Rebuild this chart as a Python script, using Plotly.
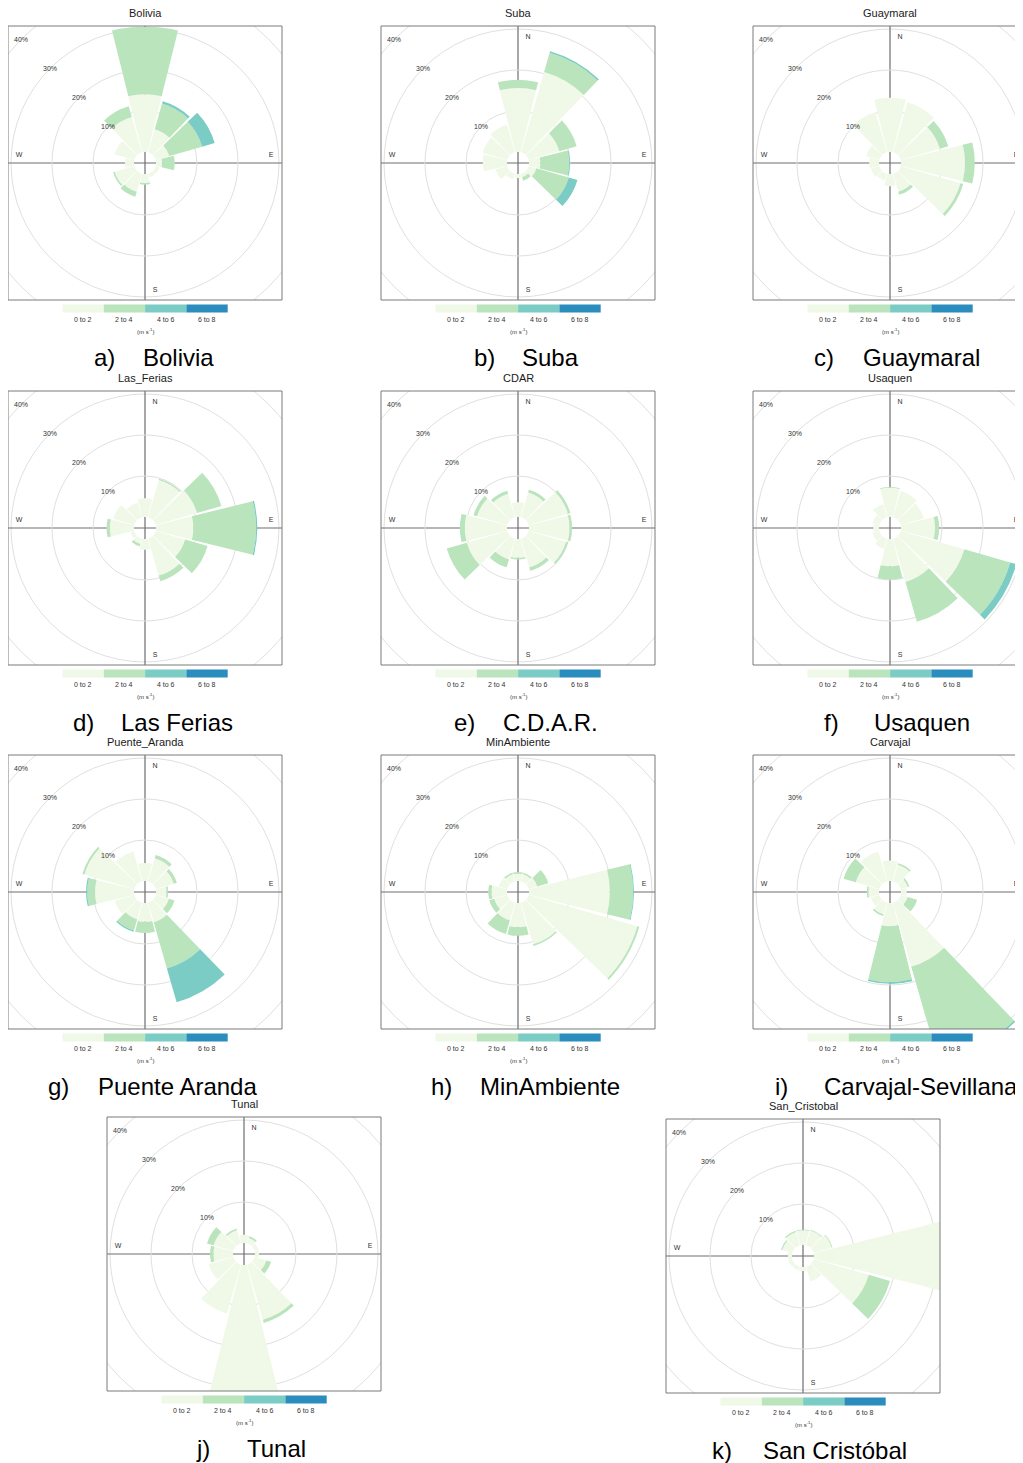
import math
import plotly.graph_objects as go

# ---------------------------------------------------------------- data
# frequency of counts (%) by wind direction (deg) and wind speed class
DIRECTIONS = [0, 30, 60, 90, 120, 150, 180, 210, 240, 270, 300, 330]
SPEED_BINS = ["0 to 2", "2 to 4", "4 to 6", "6 to 8"]
SPEED_UNIT = "(m s<sup>-1</sup>)"
PCT_TICKS = [10, 20, 30, 40]

bolivia_0to2 = [14.1, 5.9, 3.5, 1.5, 1.0, 1.0, 2.2, 4.6, 5.0, 2.2, 5.0, 9.0]
bolivia_2to4 = [25.9, 6.5, 8.3, 3.1, 0.0, 0.0, 0.4, 1.3, 0.4, 0.0, 0.0, 2.7]
bolivia_4to6 = [0.0, 0.6, 3.2, 0.0, 0.0, 0.0, 0.0, 0.0, 0.0, 0.0, 0.0, 0.0]
bolivia_6to8 = [0.0, 0.0, 0.0, 0.0, 0.0, 0.0, 0.0, 0.0, 0.0, 0.0, 0.0, 0.0]

suba_0to2 = [15.6, 20.4, 7.8, 2.8, 2.0, 0.9, 1.0, 1.5, 3.0, 5.9, 6.3, 7.0]
suba_2to4 = [2.0, 4.9, 4.4, 7.0, 8.2, 0.9, 0.0, 0.0, 0.0, 0.0, 0.0, 0.0]
suba_4to6 = [0.0, 0.4, 0.0, 0.2, 2.2, 0.0, 0.0, 0.0, 0.0, 0.0, 0.0, 0.0]
suba_6to8 = [0.0, 0.0, 0.0, 0.0, 0.0, 0.0, 0.0, 0.0, 0.0, 0.0, 0.0, 0.0]

guaymaral_0to2 = [13.2, 12.7, 10.0, 15.6, 15.2, 4.6, 3.0, 1.8, 2.2, 2.4, 3.4, 10.2]
guaymaral_2to4 = [0.0, 0.0, 2.1, 2.4, 0.7, 0.8, 0.0, 0.0, 0.0, 0.0, 0.0, 0.0]
guaymaral_4to6 = [0.0, 0.0, 0.0, 0.0, 0.0, 0.0, 0.0, 0.0, 0.0, 0.0, 0.0, 0.0]
guaymaral_6to8 = [0.0, 0.0, 0.0, 0.0, 0.0, 0.0, 0.0, 0.0, 0.0, 0.0, 0.0, 0.0]

las_ferias_0to2 = [4.6, 9.5, 10.5, 9.1, 7.5, 9.4, 2.6, 1.4, 1.0, 5.9, 5.4, 3.8]
las_ferias_2to4 = [0.0, 0.3, 6.2, 15.3, 5.7, 1.4, 0.0, 0.6, 0.0, 0.8, 0.0, 0.0]
las_ferias_4to6 = [0.0, 0.0, 0.0, 0.3, 0.0, 0.0, 0.0, 0.0, 0.0, 0.0, 0.0, 0.0]
las_ferias_6to8 = [0.0, 0.0, 0.0, 0.0, 0.0, 0.0, 0.0, 0.0, 0.0, 0.0, 0.0, 0.0]

cdar_0to2 = [3.6, 6.3, 10.0, 9.9, 9.5, 7.3, 4.6, 5.3, 10.3, 10.3, 7.7, 6.0]
cdar_2to4 = [0.0, 0.7, 0.6, 0.6, 0.5, 0.9, 0.4, 2.0, 5.1, 1.2, 0.9, 0.8]
cdar_4to6 = [0.0, 0.0, 0.0, 0.0, 0.0, 0.0, 0.0, 0.0, 0.0, 0.0, 0.0, 0.0]
cdar_6to8 = [0.0, 0.0, 0.0, 0.0, 0.0, 0.0, 0.0, 0.0, 0.0, 0.0, 0.0, 0.0]

usaquen_0to2 = [7.1, 6.7, 5.9, 8.3, 16.2, 11.0, 6.7, 2.6, 1.8, 1.4, 1.8, 3.4]
usaquen_2to4 = [0.2, 0.0, 0.0, 1.0, 11.6, 10.1, 3.2, 0.0, 0.0, 0.0, 0.0, 0.0]
usaquen_4to6 = [0.0, 0.0, 0.0, 0.0, 1.6, 0.0, 0.0, 0.0, 0.0, 0.0, 0.0, 0.0]
usaquen_6to8 = [0.0, 0.0, 0.0, 0.0, 0.0, 0.0, 0.0, 0.0, 0.0, 0.0, 0.0, 0.0]

puente_aranda_0to2 = [4.4, 5.9, 4.6, 2.6, 3.4, 5.0, 4.6, 4.2, 5.0, 9.5, 12.7, 7.6]
puente_aranda_2to4 = [0.0, 0.8, 0.8, 0.4, 1.4, 11.7, 2.7, 2.9, 0.0, 1.9, 0.5, 0.0]
puente_aranda_4to6 = [0.0, 0.0, 0.0, 0.0, 0.0, 8.6, 0.0, 0.3, 0.0, 0.3, 0.0, 0.0]
puente_aranda_6to8 = [0.0, 0.0, 0.0, 0.0, 0.0, 0.0, 0.0, 0.0, 0.0, 0.0, 0.0, 0.0]

minambiente_0to2 = [1.8, 1.8, 2.2, 19.7, 27.6, 10.6, 5.9, 4.5, 3.4, 3.8, 2.2, 1.8]
minambiente_2to4 = [0.4, 0.4, 2.8, 5.7, 0.5, 0.4, 2.1, 3.5, 1.2, 0.8, 0.0, 0.4]
minambiente_4to6 = [0.0, 0.0, 0.0, 0.2, 0.0, 0.0, 0.0, 0.0, 0.0, 0.0, 0.0, 0.0]
minambiente_6to8 = [0.0, 0.0, 0.0, 0.0, 0.0, 0.0, 0.0, 0.0, 0.0, 0.0, 0.0, 0.0]

carvajal_0to2 = [5.0, 4.2, 1.8, 1.4, 1.8, 16.3, 5.7, 3.0, 2.2, 2.6, 6.0, 7.6]
carvajal_2to4 = [0.0, 0.4, 0.4, 0.0, 2.4, 24.6, 13.6, 0.4, 0.0, 0.4, 3.1, 0.0]
carvajal_4to6 = [0.0, 0.0, 0.0, 0.0, 0.0, 0.4, 0.4, 0.0, 0.0, 0.0, 0.0, 0.0]
carvajal_6to8 = [0.0, 0.0, 0.0, 0.0, 0.0, 0.0, 0.0, 0.0, 0.0, 0.0, 0.0, 0.0]

tunal_0to2 = [2.0, 1.4, 1.0, 1.0, 3.0, 14.0, 34.0, 12.4, 6.3, 4.8, 5.0, 3.4]
tunal_2to4 = [0.0, 0.4, 0.0, 0.0, 1.2, 0.8, 0.0, 0.0, 0.0, 0.8, 1.7, 0.4]
tunal_4to6 = [0.0, 0.0, 0.0, 0.0, 0.0, 0.0, 0.0, 0.0, 0.0, 0.0, 0.0, 0.0]
tunal_6to8 = [0.0, 0.0, 0.0, 0.0, 0.0, 0.0, 0.0, 0.0, 0.0, 0.0, 0.0, 0.0]

san_cristobal_0to2 = [3.6, 3.8, 4.6, 34.0, 14.0, 3.8, 1.0, 1.0, 1.0, 1.0, 2.6, 3.4]
san_cristobal_2to4 = [0.2, 0.2, 0.2, 0.0, 5.4, 0.0, 0.0, 0.0, 0.0, 0.0, 0.3, 0.3]
san_cristobal_4to6 = [0.0, 0.0, 0.0, 0.0, 0.0, 0.0, 0.0, 0.0, 0.0, 0.0, 0.0, 0.0]
san_cristobal_6to8 = [0.0, 0.0, 0.0, 0.0, 0.0, 0.0, 0.0, 0.0, 0.0, 0.0, 0.0, 0.0]

STATIONS = ["Bolivia", "Suba", "Guaymaral", "Las_Ferias", "CDAR", "Usaquen",
            "Puente_Aranda", "MinAmbiente", "Carvajal", "Tunal", "San_Cristobal"]
CAPTION_LETTERS = ["a)", "b)", "c)", "d)", "e)", "f)", "g)", "h)", "i)", "j)", "k)"]
CAPTION_NAMES = ["Bolivia", "Suba", "Guaymaral", "Las Ferias", "C.D.A.R.", "Usaquen",
                 "Puente Aranda", "MinAmbiente", "Carvajal-Sevillana", "Tunal", "San Cristóbal"]
SERIES = [
    [bolivia_0to2, bolivia_2to4, bolivia_4to6, bolivia_6to8],
    [suba_0to2, suba_2to4, suba_4to6, suba_6to8],
    [guaymaral_0to2, guaymaral_2to4, guaymaral_4to6, guaymaral_6to8],
    [las_ferias_0to2, las_ferias_2to4, las_ferias_4to6, las_ferias_6to8],
    [cdar_0to2, cdar_2to4, cdar_4to6, cdar_6to8],
    [usaquen_0to2, usaquen_2to4, usaquen_4to6, usaquen_6to8],
    [puente_aranda_0to2, puente_aranda_2to4, puente_aranda_4to6, puente_aranda_6to8],
    [minambiente_0to2, minambiente_2to4, minambiente_4to6, minambiente_6to8],
    [carvajal_0to2, carvajal_2to4, carvajal_4to6, carvajal_6to8],
    [tunal_0to2, tunal_2to4, tunal_4to6, tunal_6to8],
    [san_cristobal_0to2, san_cristobal_2to4, san_cristobal_4to6, san_cristobal_6to8],
]

# ---------------------------------------------------------------- layout / style
BIN_COLORS = ["#F0F9E8", "#BAE4BC", "#7BCCC4", "#2B8CBE"]
FONT = "Liberation Sans, Arial, Helvetica, sans-serif"

OFF = 8            # page (body) margin in px
FIG_W = 1015
FIG_H = 1455

CENTERS = [(145, 163), (518, 163), (890, 163),
           (145, 528), (518, 528), (890, 528),
           (145, 892), (518, 892), (890, 892),
           (244, 1254), (803, 1256)]
LETTER_X = [104, 484, 824, 83, 464, 831, 58, 441, 781, 203, 722]
NAME_X = [178, 550, 921, 177, 550, 922, 177, 550, 921, 276, 835]
EXTEND_SECTOR = {8: (-90, -45)}   # extra sector view for bars leaving the box

HOLE_PX = 11.0
PX_PER_PCT = 4.1
BOX_HALF = 137
WEDGE_WIDTH = 28
MAX_R = 190
MASK = 64


def fx(x):
    return (x - OFF) / FIG_W


def fy(y):
    return 1 - (y - OFF) / FIG_H


def ring_px(p):
    return HOLE_PX + PX_PER_PCT * p


fig = go.Figure()
polars = {}
shapes_below = []
masks = []
shapes_top = []
annotations = []
label_x, label_y, label_t = [], [], []

n_pol = 0


def add_polar(series, dom_x, dom_y, radius, sector=None, grid=True):
    global n_pol
    n_pol += 1
    pid = "polar" if n_pol == 1 else f"polar{n_pol}"
    p = dict(
        domain=dict(x=dom_x, y=dom_y),
        bgcolor="rgba(0,0,0,0)",
        hole=HOLE_PX / radius,
        barmode="stack",
        radialaxis=dict(range=[0, (radius - HOLE_PX) / PX_PER_PCT], tickvals=PCT_TICKS[:2],
                        showticklabels=False, ticks="", showline=False,
                        showgrid=grid, gridcolor="#e0e0e0", gridwidth=1),
        angularaxis=dict(direction="clockwise", rotation=90, showgrid=False,
                         showline=False, showticklabels=False, ticks=""),
    )
    if sector is not None:
        p["sector"] = list(sector)
    polars[pid] = p
    for k in range(len(SPEED_BINS)):
        fig.add_trace(go.Barpolar(
            r=series[k], theta=DIRECTIONS, width=WEDGE_WIDTH, subplot=pid,
            name=SPEED_BINS[k], marker=dict(color=BIN_COLORS[k], line=dict(width=0)),
            showlegend=False, hoverinfo="skip"))


def note(x, y, text, size, color="#333"):
    annotations.append(dict(x=fx(x), y=fy(y), text=text, showarrow=False,
                            xref="paper", yref="paper", xanchor="center", yanchor="middle",
                            font=dict(size=size, color=color, family=FONT)))


for i, station in enumerate(STATIONS):
    cx, cy = CENTERS[i]
    series = SERIES[i]
    R = min(MAX_R, cx - OFF, OFF + FIG_W - cx, cy - OFF, OFF + FIG_H - cy) - 0.5
    add_polar(series, [fx(cx - R), fx(cx + R)], [fy(cy + R), fy(cy - R)], R)
    if i in EXTEND_SECTOR:
        R2 = 185.0
        add_polar(series, [fx(cx), fx(cx + R2 * math.sqrt(0.5))], [fy(cy + R2), fy(cy)],
                  R2, sector=EXTEND_SECTOR[i], grid=False)

    x0, x1 = cx - BOX_HALF, cx + BOX_HALF
    y0, y1 = cy - BOX_HALF, cy + BOX_HALF

    # outer grid rings (beyond polar range) + compass axis lines, under the bars
    for p in PCT_TICKS[2:]:
        r = ring_px(p)
        shapes_below.append(dict(type="circle", xref="paper", yref="paper", layer="below",
                                 x0=fx(cx - r), x1=fx(cx + r), y0=fy(cy + r), y1=fy(cy - r),
                                 line=dict(color="#e0e0e0", width=1)))
    shapes_below.append(dict(type="line", xref="paper", yref="paper", layer="below",
                             x0=fx(x0), x1=fx(x1), y0=fy(cy), y1=fy(cy),
                             line=dict(color="#6e6e6e", width=1.2)))
    shapes_below.append(dict(type="line", xref="paper", yref="paper", layer="below",
                             x0=fx(cx), x1=fx(cx), y0=fy(y0), y1=fy(y1),
                             line=dict(color="#6e6e6e", width=1.2)))

    # white masks clipping everything to the panel box
    for (a0, a1, b0, b1) in [(x0 - MASK, x1 + MASK, y0 - MASK, y0),
                             (x0 - MASK, x1 + MASK, y1, y1 + MASK),
                             (x0 - MASK, x0, y0, y1),
                             (x1, x1 + MASK, y0, y1)]:
        masks.append(dict(type="rect", xref="paper", yref="paper", layer="above",
                          x0=fx(a0), x1=fx(a1), y0=fy(b1), y1=fy(b0),
                          fillcolor="white", line=dict(width=0)))
    # panel frame
    shapes_top.append(dict(type="rect", xref="paper", yref="paper", layer="above",
                           x0=fx(x0), x1=fx(x1), y0=fy(y1), y1=fy(y0),
                           line=dict(color="#7a7a7a", width=1), fillcolor="rgba(0,0,0,0)"))
    # colour key
    kw = 41.3
    kx0 = cx - 82.5
    for k, lab in enumerate(SPEED_BINS):
        shapes_top.append(dict(type="rect", xref="paper", yref="paper", layer="above",
                               x0=fx(kx0 + k * kw), x1=fx(kx0 + (k + 1) * kw),
                               y0=fy(y1 + 12.5), y1=fy(y1 + 4.5),
                               fillcolor=BIN_COLORS[k], line=dict(width=0)))
        note(kx0 + (k + 0.5) * kw, y1 + 19.5, lab, 7)
    note(cx, y1 + 31, SPEED_UNIT, 6)
    # station title
    note(cx, y0 - 13, station, 11, "#1a1a1a")
    # percent labels on NW diagonal
    for p in PCT_TICKS:
        d = ring_px(p) / math.sqrt(2)
        note(cx - d, cy - d, f"{p}%", 7)
    # figure caption
    note(LETTER_X[i], y1 + 57, CAPTION_LETTERS[i], 24, "black")
    note(NAME_X[i], y1 + 57, CAPTION_NAMES[i], 24, "black")
    # compass letters (drawn beneath the bars)
    label_x += [cx + 10, cx + 10, x0 + 11, x1 - 11]
    label_y += [y0 + 11, y1 - 10, cy - 8, cy - 8]
    label_t += ["N", "S", "W", "E"]

fig.add_trace(go.Scatter(x=label_x, y=label_y, text=label_t, mode="text",
                         textfont=dict(size=7, color="#333", family=FONT),
                         hoverinfo="skip", showlegend=False, xaxis="x", yaxis="y"))

fig.update_layout(
    template="none",
    width=FIG_W, height=FIG_H, autosize=False,
    margin=dict(l=0, r=0, t=0, b=0, pad=0),
    paper_bgcolor="white", plot_bgcolor="rgba(0,0,0,0)",
    showlegend=False,
    xaxis=dict(range=[OFF, OFF + FIG_W], visible=False, domain=[0, 1], fixedrange=True),
    yaxis=dict(range=[OFF + FIG_H, OFF], visible=False, domain=[0, 1], fixedrange=True),
    shapes=shapes_below + masks + shapes_top,
    annotations=annotations,
    font=dict(family=FONT),
    **polars,
)

fig.write_html("out.html")
